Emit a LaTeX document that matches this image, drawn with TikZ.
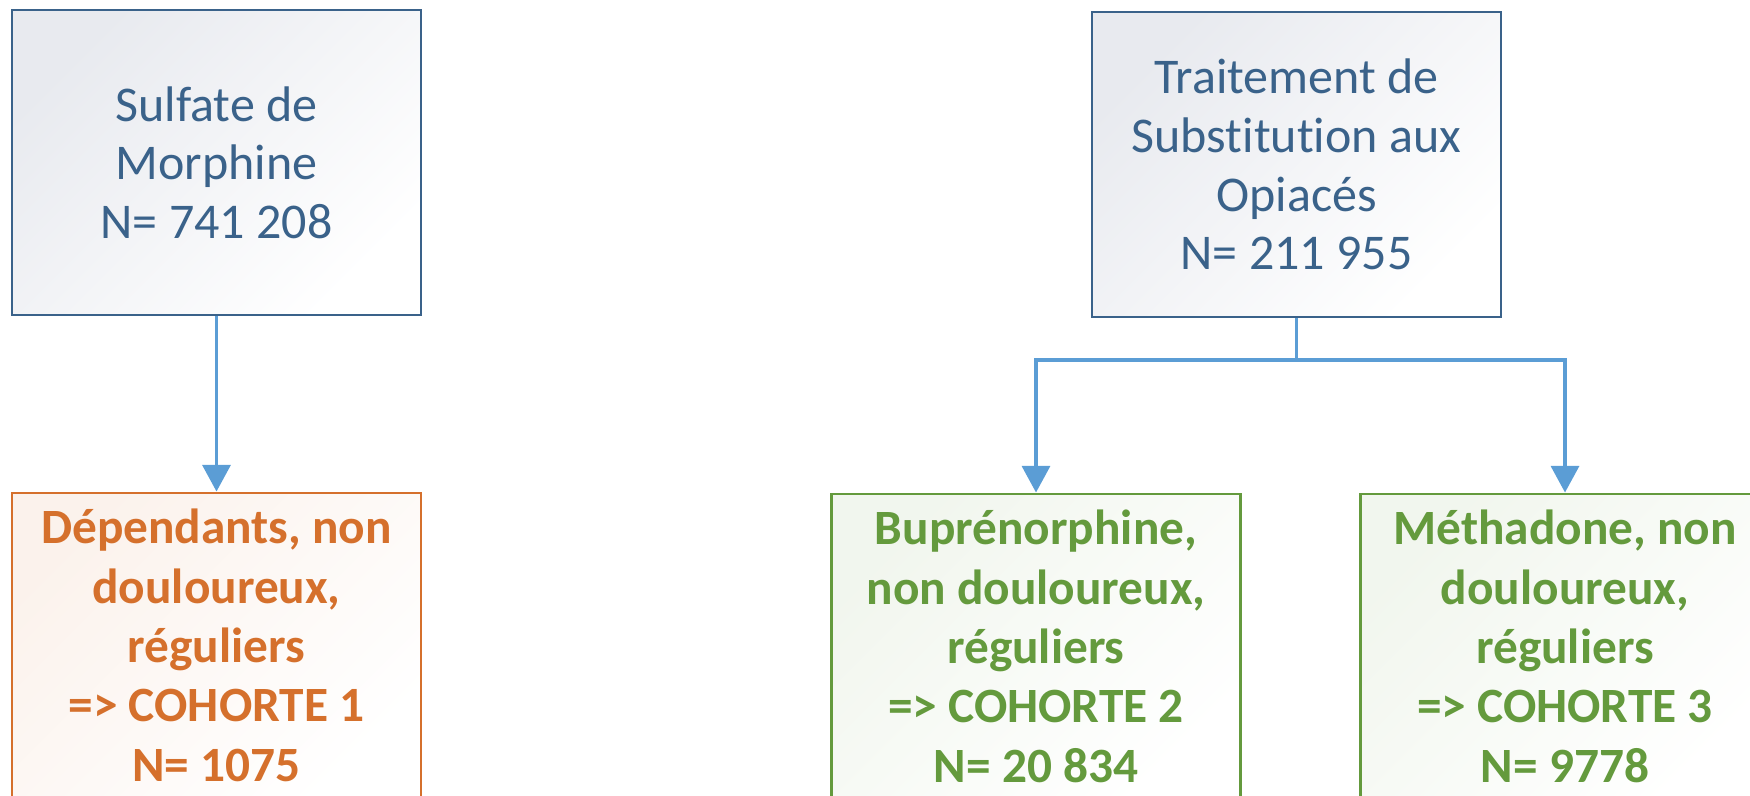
\documentclass[tikz,border=0pt]{standalone}
\usepackage{fontspec}
\setmainfont{Carlito}[Ligatures=NoCommon]
\usetikzlibrary{arrows.meta}

\definecolor{srcblue}{RGB}{58,98,138}
\definecolor{srcshade}{RGB}{232,234,239}
\definecolor{linkblue}{RGB}{91,157,213}
\definecolor{cohorange}{RGB}{213,112,44}
\definecolor{cohgreen}{RGB}{100,154,61}

\tikzset{
	srcbox/.style={draw=srcblue, line width=2.2pt, text=srcblue, align=center,
		minimum width=306.75pt, minimum height=228.75pt, inner sep=0pt,
		top color=srcshade, bottom color=white, shading angle=45,
		font=\fontsize{37.5pt}{44pt}\selectfont},
	cohbox/.style={draw=#1, line width=2.2pt, text=#1, align=center,
		minimum width=306.75pt, minimum height=228.75pt, inner sep=0pt,
		top color=#1!9, bottom color=white, shading angle=45,
		font=\fontsize{37pt}{44.5pt}\selectfont\bfseries},
	link/.style={draw=linkblue, line width=2.6pt},
	linkarrow/.style={link, -{Triangle[width=21pt,length=20pt]}}
}

\begin{document}
\begin{tikzpicture}[x=0.75pt,y=0.75pt,yscale=-1,xscale=1]
	\clip (0,0) rectangle (1750,796);
	\useasboundingbox (0,0) rectangle (1750,796);

	% Source boxes
	\node [srcbox] (morphine) at (216.5,162.5) {Sulfate de\\Morphine\\N= 741 208};
	\node [srcbox] (tso) at (1296.5,164.5) {Traitement de\\Substitution aux\\Opiacés\\N= 211 955};

	% Cohort boxes
	\node [cohbox=cohorange] (cohorte1) at (216.5,645.5) {Dépendants, non\\douloureux,\\réguliers\\=> COHORTE 1\\N= 1075};
	\node [cohbox=cohgreen] (cohorte2) at (1036,646.5) {Buprénorphine,\\non douloureux,\\réguliers\\=> COHORTE 2\\N= 20 834};
	\node [cohbox=cohgreen] (cohorte3) at (1565,646.5) {Méthadone, non\\douloureux,\\réguliers\\=> COHORTE 3\\N= 9778};

	% Connectors
	\coordinate (split) at (1296.5,360);
	\draw [linkarrow] (morphine.south) -- (cohorte1.north);
	\draw [link] (tso.south) -- (split);
	\draw [linkarrow] (split) -| (cohorte2.north);
	\draw [linkarrow] (split) -| (cohorte3.north);

\end{tikzpicture}
\end{document}
